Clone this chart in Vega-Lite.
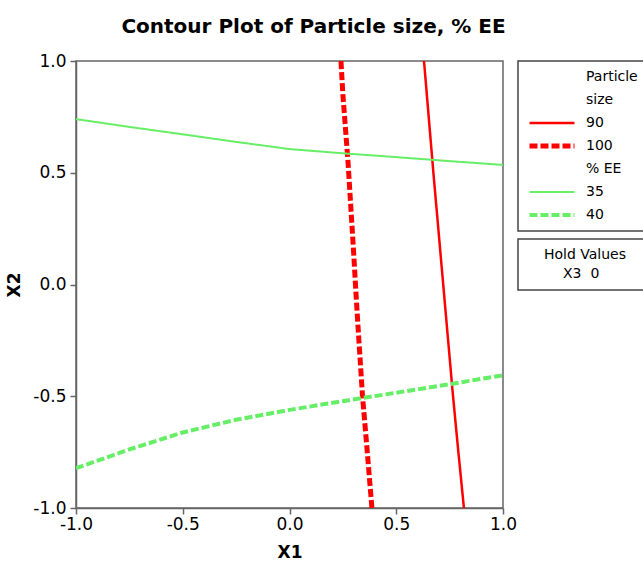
{
  "$schema": "https://vega.github.io/schema/vega-lite/v6.json",
  "autosize": {"type": "none"},
  "padding": {"left": 76, "top": 61, "right": 140, "bottom": 57},
  "width": 427,
  "height": 447,
  "background": "white",
  "config": {
    "font": "DejaVu Sans",
    "view": {"stroke": "#666666", "strokeWidth": 1.5},
    "axis": {
      "grid": false,
      "domainColor": "#666666",
      "domainWidth": 1.5,
      "tickColor": "#666666",
      "tickWidth": 1.5,
      "tickSize": 6,
      "labelFont": "DejaVu Sans",
      "labelFontSize": 17,
      "labelColor": "black",
      "titleFont": "DejaVu Sans",
      "titleFontSize": 17,
      "titleFontWeight": "bold",
      "titleColor": "black"
    },
    "legend": {
      "orient": "right",
      "offset": 15,
      "padding": 9,
      "strokeColor": "#444444",
      "strokeWidth": 1.5,
      "labelFont": "DejaVu Sans",
      "labelFontSize": 14,
      "labelColor": "black",
      "titleFont": "DejaVu Sans",
      "titleFontSize": 14,
      "titleFontWeight": "normal",
      "titleColor": "black"
    }
  },
  "title": {
    "text": "Contour Plot of Particle size, % EE",
    "frame": "group",
    "anchor": "middle",
    "baseline": "alphabetic",
    "offset": 2,
    "dx": 24,
    "dy": 3,
    "font": "DejaVu Sans",
    "fontSize": 20,
    "fontWeight": "bold",
    "color": "black"
  },
  "datasets": {
    "contours": [
      {"series": "90", "x1": 0.630, "x2": 1.0},
      {"series": "90", "x1": 0.652, "x2": 0.75},
      {"series": "90", "x1": 0.674, "x2": 0.5},
      {"series": "90", "x1": 0.697, "x2": 0.25},
      {"series": "90", "x1": 0.720, "x2": 0.0},
      {"series": "90", "x1": 0.743, "x2": -0.25},
      {"series": "90", "x1": 0.766, "x2": -0.5},
      {"series": "90", "x1": 0.791, "x2": -0.75},
      {"series": "90", "x1": 0.817, "x2": -1.0},
      {"series": "100", "x1": 0.241, "x2": 1.0},
      {"series": "100", "x1": 0.250, "x2": 0.85},
      {"series": "100", "x1": 0.262, "x2": 0.7},
      {"series": "100", "x1": 0.274, "x2": 0.55},
      {"series": "100", "x1": 0.287, "x2": 0.35},
      {"series": "100", "x1": 0.300, "x2": 0.15},
      {"series": "100", "x1": 0.312, "x2": -0.05},
      {"series": "100", "x1": 0.325, "x2": -0.25},
      {"series": "100", "x1": 0.342, "x2": -0.5},
      {"series": "100", "x1": 0.360, "x2": -0.7},
      {"series": "100", "x1": 0.386, "x2": -1.0},
      {"series": "35", "x1": -1.0, "x2": 0.740},
      {"series": "35", "x1": -0.75, "x2": 0.705},
      {"series": "35", "x1": -0.5, "x2": 0.672},
      {"series": "35", "x1": -0.25, "x2": 0.638},
      {"series": "35", "x1": 0.0, "x2": 0.606},
      {"series": "35", "x1": 0.25, "x2": 0.587},
      {"series": "35", "x1": 0.5, "x2": 0.570},
      {"series": "35", "x1": 0.75, "x2": 0.552},
      {"series": "35", "x1": 1.0, "x2": 0.535},
      {"series": "40", "x1": -1.0, "x2": -0.822},
      {"series": "40", "x1": -0.75, "x2": -0.738},
      {"series": "40", "x1": -0.5, "x2": -0.662},
      {"series": "40", "x1": -0.25, "x2": -0.605},
      {"series": "40", "x1": 0.0, "x2": -0.561},
      {"series": "40", "x1": 0.25, "x2": -0.522},
      {"series": "40", "x1": 0.5, "x2": -0.484},
      {"series": "40", "x1": 0.75, "x2": -0.446},
      {"series": "40", "x1": 1.0, "x2": -0.406}
    ],
    "hold": [
      {"hold": "X3\u00a0\u00a00"}
    ]
  },
  "layer": [
    {
      "data": {"name": "contours"},
      "mark": {"type": "line", "clip": true},
      "encoding": {
        "x": {
          "field": "x1",
          "type": "quantitative",
          "scale": {"domain": [-1, 1], "nice": false, "zero": false},
          "axis": {"title": "X1", "values": [-1, -0.5, 0, 0.5, 1], "labelExpr": "datum.value < 0 ? '-' + format(-datum.value, '.1f') : format(datum.value, '.1f')", "labelPadding": 2, "titlePadding": 12, "labelFlush": false}
        },
        "y": {
          "field": "x2",
          "type": "quantitative",
          "scale": {"domain": [-1, 1], "nice": false, "zero": false},
          "axis": {"title": "X2", "values": [-1, -0.5, 0, 0.5, 1], "labelExpr": "datum.value < 0 ? '-' + format(-datum.value, '.1f') : format(datum.value, '.1f')", "labelPadding": 4, "titlePadding": 9, "labelFlush": false}
        },
        "order": {"field": "x2", "type": "quantitative"},
        "color": {
          "field": "series",
          "type": "nominal",
          "scale": {
            "domain": ["Particle", "size", "90", "100", "% EE", "35", "40"],
            "range": ["transparent", "transparent", "#ff0000", "#ff0000", "transparent", "#66ee66", "#66ee66"]
          },
          "legend": {
            "title": null,
            "symbolType": "stroke",
            "symbolSize": 2025,
            "clipHeight": 14,
            "labelOffset": 9,
            "rowPadding": 9,
            "labelLimit": 200
          }
        },
        "strokeDash": {
          "field": "series",
          "type": "nominal",
          "scale": {
            "domain": ["Particle", "size", "90", "100", "% EE", "35", "40"],
            "range": [[1, 0], [1, 0], [1, 0], [8, 3], [1, 0], [1, 0], [8, 3]]
          },
          "legend": {
            "title": null,
            "symbolType": "stroke",
            "symbolSize": 2025,
            "clipHeight": 14,
            "labelOffset": 9,
            "rowPadding": 9,
            "labelLimit": 200
          }
        },
        "strokeWidth": {
          "field": "series",
          "type": "nominal",
          "scale": {
            "type": "ordinal",
            "domain": ["Particle", "size", "90", "100", "% EE", "35", "40"],
            "range": [0, 0, 2.5, 5, 0, 2, 4]
          },
          "legend": {
            "title": null,
            "symbolType": "stroke",
            "symbolSize": 2025,
            "clipHeight": 14,
            "labelOffset": 9,
            "rowPadding": 9,
            "labelLimit": 200
          }
        }
      }
    },
    {
      "data": {"name": "hold"},
      "mark": {"type": "point", "opacity": 0},
      "encoding": {
        "shape": {
          "field": "hold",
          "type": "nominal",
          "legend": {
            "title": "Hold Values",
            "titleAnchor": "middle",
            "titlePadding": 5,
            "symbolSize": 100,
            "symbolOpacity": 0,
            "symbolStrokeColor": "transparent",
            "symbolFillColor": "transparent",
            "labelOffset": 22,
            "labelLimit": 300,
            "labelExpr": "datum.label + '\u00a0\u00a0\u00a0\u00a0\u00a0\u00a0\u00a0\u00a0\u00a0\u00a0\u200b'"
          }
        }
      }
    }
  ]
}
